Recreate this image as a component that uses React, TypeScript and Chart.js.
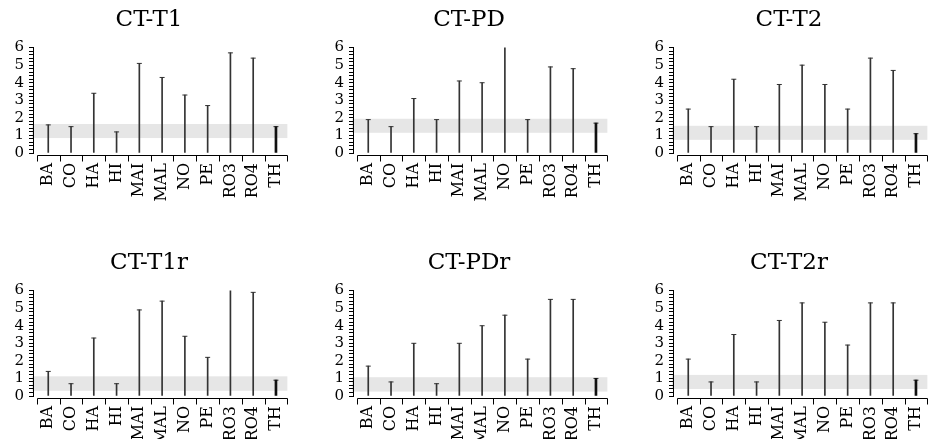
import React, { useEffect, useRef } from 'react';
import { Chart, registerables } from 'chart.js';

Chart.register(...registerables);

const categories = ['BA', 'CO', 'HA', 'HI', 'MAI', 'MAL', 'NO', 'PE', 'RO3', 'RO4', 'TH'];
const thickCategory = 'TH';

const panelTitles = ['CT-T1', 'CT-PD', 'CT-T2', 'CT-T1r', 'CT-PDr', 'CT-T2r'];

const ctT1 = [1.6, 1.5, 3.4, 1.2, 5.1, 4.3, 3.3, 2.7, 5.7, 5.4, 1.5];
const ctPD = [1.9, 1.5, 3.1, 1.9, 4.1, 4.0, 6.1, 1.9, 4.9, 4.8, 1.7];
const ctT2 = [2.5, 1.5, 4.2, 1.5, 3.9, 5.0, 3.9, 2.5, 5.4, 4.7, 1.1];
const ctT1r = [1.4, 0.7, 3.3, 0.7, 4.9, 5.4, 3.4, 2.2, 6.1, 5.9, 0.9];
const ctPDr = [1.7, 0.8, 3.0, 0.7, 3.0, 4.0, 4.6, 2.1, 5.5, 5.5, 1.0];
const ctT2r = [2.1, 0.8, 3.5, 0.8, 4.3, 5.3, 4.2, 2.9, 5.3, 5.3, 0.9];

const panelValues = [ctT1, ctPD, ctT2, ctT1r, ctPDr, ctT2r];

const bandLow = [0.85, 1.15, 0.75, 0.3, 0.25, 0.4];
const bandHigh = [1.65, 1.95, 1.55, 1.12, 1.07, 1.2];

const yTickValues = [0, 1, 2, 3, 4, 5, 6];

const FONT = "'DejaVu Serif', serif";
const PANEL_W = 306;
const PANEL_H = 243;
const COL_STEP = 320;
const ROW_STEP = 243;
const PLOT_BOTTOM = 153;

const bandPlugin = {
  id: 'band',
  beforeDraw(chart: any, _args: any, opts: any) {
    const { ctx, chartArea, scales } = chart;
    const y = scales.y;
    const top = y.getPixelForValue(opts.hi);
    const bot = y.getPixelForValue(opts.lo);
    ctx.save();
    ctx.fillStyle = '#e6e6e6';
    ctx.fillRect(chartArea.left - 1, top, chartArea.right - chartArea.left + 1, bot - top);
    ctx.restore();
  },
};

const xAxisPlugin = {
  id: 'xAxisLine',
  afterDraw(chart: any) {
    const { ctx, chartArea, scales } = chart;
    const x = scales.x;
    const n = categories.length;
    const yPix = Math.round(chartArea.bottom + 2) + 0.5;
    const x0 = Math.round(x.getPixelForValue(-0.5)) + 0.5;
    const x1 = Math.round(x.getPixelForValue(n - 0.5)) + 0.5;
    ctx.save();
    ctx.strokeStyle = '#000';
    ctx.lineWidth = 1;
    ctx.beginPath();
    ctx.moveTo(x0, yPix);
    ctx.lineTo(x1, yPix);
    for (let i = 0; i <= n; i++) {
      const px = Math.round(x.getPixelForValue(i - 0.5)) + 0.5;
      ctx.moveTo(px, yPix);
      ctx.lineTo(px, yPix + 6);
    }
    ctx.stroke();
    ctx.restore();
  },
};

function Panel({ index }: { index: number }) {
  const ref = useRef<HTMLCanvasElement>(null);

  useEffect(() => {
    if (!ref.current) return;
    const values = panelValues[index];
    const n = categories.length;
    const thin = values
      .map((v, i) => ({ x: i, y: v, c: categories[i] }))
      .filter((d) => d.c !== thickCategory)
      .map((d) => ({ x: d.x, y: d.y }));
    const thick = values
      .map((v, i) => ({ x: i, y: v, c: categories[i] }))
      .filter((d) => d.c === thickCategory)
      .map((d) => ({ x: d.x, y: d.y }));
    const caps = values.map((v, i) => ({ x: i, y: v }));
    const xMin = -0.67;
    const xMax = n - 0.5;

    const chart = new Chart(ref.current, {
      type: 'bar',
      data: {
        datasets: [
          {
            type: 'bar',
            data: thin,
            backgroundColor: '#333',
            barThickness: 1,
            grouped: false,
            borderWidth: 0,
          } as any,
          {
            type: 'bar',
            data: thick,
            backgroundColor: '#111',
            barThickness: 2,
            grouped: false,
            borderWidth: 0,
          } as any,
          {
            type: 'line',
            data: caps,
            showLine: false,
            pointStyle: 'line',
            pointRadius: 2.5,
            pointBorderWidth: 1,
            pointBorderColor: '#333',
            pointBackgroundColor: '#333',
          } as any,
        ],
      },
      options: {
        responsive: false,
        animation: false,
        events: [],
        layout: { padding: { left: 0, right: 8, top: 0, bottom: 0 } },
        plugins: {
          legend: { display: false },
          tooltip: { enabled: false },
          title: {
            display: true,
            text: panelTitles[index],
            color: '#000',
            font: { family: FONT, size: 23, weight: 'normal' },
            padding: { top: 6, bottom: 14 },
          },
          band: { lo: bandLow[index], hi: bandHigh[index] },
        } as any,
        scales: {
          x: {
            type: 'linear',
            display: false,
            min: xMin,
            max: xMax,
            offset: false,
          },
          x2: {
            type: 'linear',
            position: 'bottom',
            min: xMin,
            max: xMax,
            offset: false,
            afterBuildTicks: (s: any) => {
              s.ticks = categories.map((_, i) => ({ value: i }));
            },
            ticks: {
              autoSkip: false,
              minRotation: 90,
              maxRotation: 90,
              padding: 10,
              color: '#000',
              font: { family: FONT, size: 16 },
              callback: (v: any) => categories[Math.round(Number(v))] ?? '',
            },
            grid: { display: false, drawTicks: false },
            border: { display: false },
            afterFit: (s: any) => {
              s.height = PANEL_H - PLOT_BOTTOM;
            },
          },
          y: {
            type: 'linear',
            min: 0,
            max: 6,
            ticks: {
              stepSize: 0.2,
              autoSkip: false,
              padding: 5,
              color: '#000',
              font: { family: FONT, size: 15 },
              callback: (v: any) => {
                const r = Math.round(Number(v));
                return Math.abs(Number(v) - r) < 1e-6 && yTickValues.includes(r) ? String(r) : '';
              },
            },
            grid: { drawOnChartArea: false, tickLength: 4, color: '#000', lineWidth: 1 },
            border: { color: '#000', width: 1 },
            afterFit: (s: any) => {
              s.width = 33;
            },
          },
        } as any,
      },
      plugins: [bandPlugin, xAxisPlugin],
    });

    return () => chart.destroy();
  }, [index]);

  const col = index % 3;
  const row = Math.floor(index / 3);
  return (
    <canvas
      ref={ref}
      width={PANEL_W}
      height={PANEL_H}
      style={{
        position: 'absolute',
        left: col * COL_STEP,
        top: row * ROW_STEP,
        width: PANEL_W,
        height: PANEL_H,
      }}
    />
  );
}

export default function App() {
  return (
    <div
      style={{
        position: 'fixed',
        left: 0,
        top: 0,
        width: 938,
        height: 439,
        overflow: 'hidden',
        background: '#fff',
      }}
    >
      {panelTitles.map((_, i) => (
        <Panel key={i} index={i} />
      ))}
    </div>
  );
}
